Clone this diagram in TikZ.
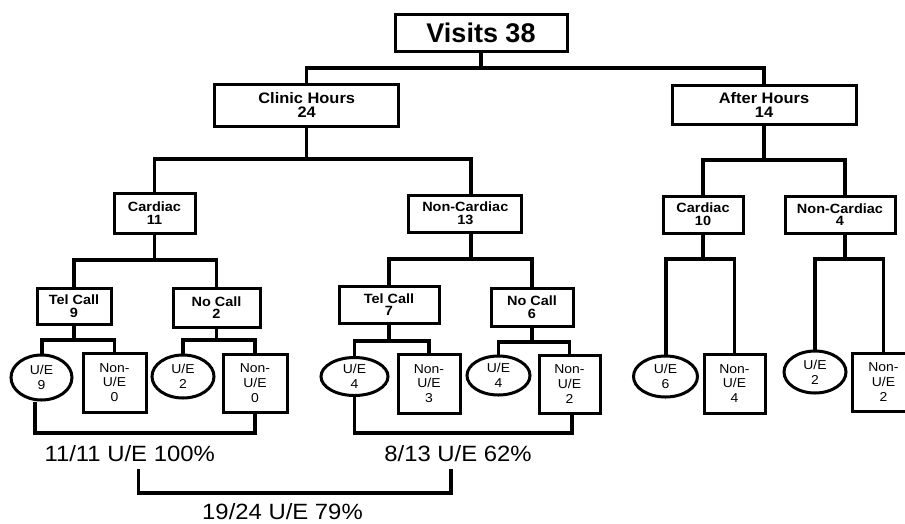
\documentclass[tikz,border=0pt]{standalone}
\usepackage{fontspec}
\setmainfont{Liberation Sans}
\newfontfamily\wide{Liberation Sans}[FakeStretch=1.08]
\usetikzlibrary{shapes.geometric}
\begin{document}
\begin{tikzpicture}[x=1pt,y=-1pt,line width=3.1pt,
  lbox/.style={draw,rectangle,line width=3pt,inner sep=0pt,align=center},
  big/.style={font=\bfseries\fontsize{27}{27}\selectfont},
  mid/.style={font=\wide\bfseries\fontsize{15.2}{14}\selectfont},
  sml/.style={font=\wide\bfseries\fontsize{13.4}{12.6}\selectfont},
  leafbox/.style={lbox,font=\wide\fontsize{12.9}{14.7}\selectfont},
  leafell/.style={draw,ellipse,line width=3pt,inner sep=0pt,align=center,font=\wide\fontsize{12.9}{15}\selectfont},
  sumtxt/.style={inner sep=0pt,anchor=base,font=\wide\fontsize{22.1}{24}\selectfont}]
\clip (0,0) rectangle (905,523);
\fill[white] (0,0) rectangle (905,523);
% levels 0-2
\node[lbox,big,minimum width=172pt,minimum height=37pt] (V) at (481,32.5) {Visits 38};
\node[lbox,mid,minimum width=184pt,minimum height=42pt] (CH) at (306.7,105) {Clinic Hours\\24};
\node[lbox,mid,minimum width=184pt,minimum height=39pt] (AH) at (764,104.5) {After Hours\\14};
\node[lbox,sml,minimum width=81pt,minimum height=40pt] (C1) at (154.5,213) {Cardiac\\11};
\node[lbox,sml,minimum width=113pt,minimum height=37pt] (NC1) at (465.3,213.5) {Non-Cardiac\\13};
\node[lbox,sml,minimum width=80pt,minimum height=37pt] (C2) at (703,214.5) {Cardiac\\10};
\node[lbox,sml,minimum width=110pt,minimum height=37pt] (NC2) at (840,214.5) {Non-Cardiac\\4};
% level 3
\node[lbox,sml,minimum width=74pt,minimum height=36pt] (T1) at (74,306) {Tel Call\\9};
\node[lbox,sml,minimum width=87pt,minimum height=39pt] (N1) at (216.5,307.5) {No Call\\2};
\node[lbox,sml,minimum width=100pt,minimum height=37pt] (T2) at (389,304.5) {Tel Call\\7};
\node[lbox,sml,minimum width=82pt,minimum height=38pt] (N2) at (532,307) {No Call\\6};
% leaves
\node[leafell,minimum width=61pt,minimum height=45pt] (E1) at (41.5,377.5) {U/E\\9};
\node[leafbox,minimum width=63pt,minimum height=59pt] (B1) at (114.5,382.5) {Non-\\U/E\\0};
\node[leafell,minimum width=62pt,minimum height=43pt] (E2) at (183,376.5) {U/E\\2};
\node[leafbox,minimum width=64pt,minimum height=58pt] (B2) at (255,383) {Non-\\U/E\\0};
\node[leafell,minimum width=67pt,minimum height=38pt] (E3) at (354.5,376.5) {U/E\\4};
\node[leafbox,minimum width=62pt,minimum height=59pt] (B3) at (429,383.5) {Non-\\U/E\\3};
\node[leafell,minimum width=63pt,minimum height=39pt] (E4) at (498.5,375.5) {U/E\\4};
\node[leafbox,minimum width=61pt,minimum height=58pt] (B4) at (569.5,384) {Non-\\U/E\\2};
\node[leafell,minimum width=64pt,minimum height=41pt] (E5) at (665.5,376.5) {U/E\\6};
\node[leafbox,minimum width=61pt,minimum height=59pt] (B5) at (734.5,383.5) {Non-\\U/E\\4};
\node[leafell,minimum width=62pt,minimum height=42pt] (E6) at (815,372) {U/E\\2};
\node[leafbox,minimum width=62pt,minimum height=58pt] (B6) at (883.5,382) {Non-\\U/E\\2};
% summary texts
\node[sumtxt] (S1) at (129.7,461.7) {11/11 U/E 100\%};
\node[sumtxt] (S2) at (458,461.7) {8/13 U/E 62\%};
\node[sumtxt] (S3) at (282.5,519) {19/24 U/E 79\%};
\coordinate (b1) at (138.3,469);
\coordinate (b2) at (451,469);
% connectors
\draw (V.south) -- (481,68);
\draw (CH.north) -- (306.7,68) -- (764,68) -- (AH.north);
\draw (CH.south) -- (306.7,159);
\draw (C1.north) -- (154.5,159) -- (471,159) -- (NC1.north -| 471,0);
\draw (AH.south) -- (764,160);
\draw (C2.north) -- (703,160) -- (845,160) -- (NC2.north -| 845,0);
\draw (C1.south) -- (154.5,260);
\draw (T1.north) -- (74,260) -- (216.5,260) -- (N1.north);
\draw (NC1.south -| 471,0) -- (471,259);
\draw (T2.north) -- (389,259) -- (532,259) -- (N2.north);
\draw (C2.south) -- (703,259);
\draw (E5.north -| 666,0) -- (666,259) -- (734.5,259) -- (B5.north);
\draw (NC2.south -| 845,0) -- (845,259);
\draw (E6.north) -- (815,259) -- (883.5,259) -- (B6.north);
\draw (T1.south) -- (74,340);
\draw (E1.north -| 42,0) -- (42,340) -- (114.5,340) -- (B1.north);
\draw (N1.south) -- (216.5,340);
\draw (E2.north) -- (183,340) -- (255,340) -- (B2.north);
\draw (T2.south) -- (389,341);
\draw (E3.north) -- (354.5,341) -- (429,341) -- (B3.north);
\draw (N2.south) -- (532,342);
\draw (E4.north) -- (498.5,342) -- (569.5,342) -- (B4.north);
% brackets
\draw (E1.south -| 35,0) -- (35,433) -- (255,433) -- (B2.south);
\draw (E3.south) -- (354.5,433) -- (572,433) -- (B4.south -| 572,0);
\draw (b1) -- (138.3,493) -- (451,493) -- (b2);
\end{tikzpicture}
\end{document}
